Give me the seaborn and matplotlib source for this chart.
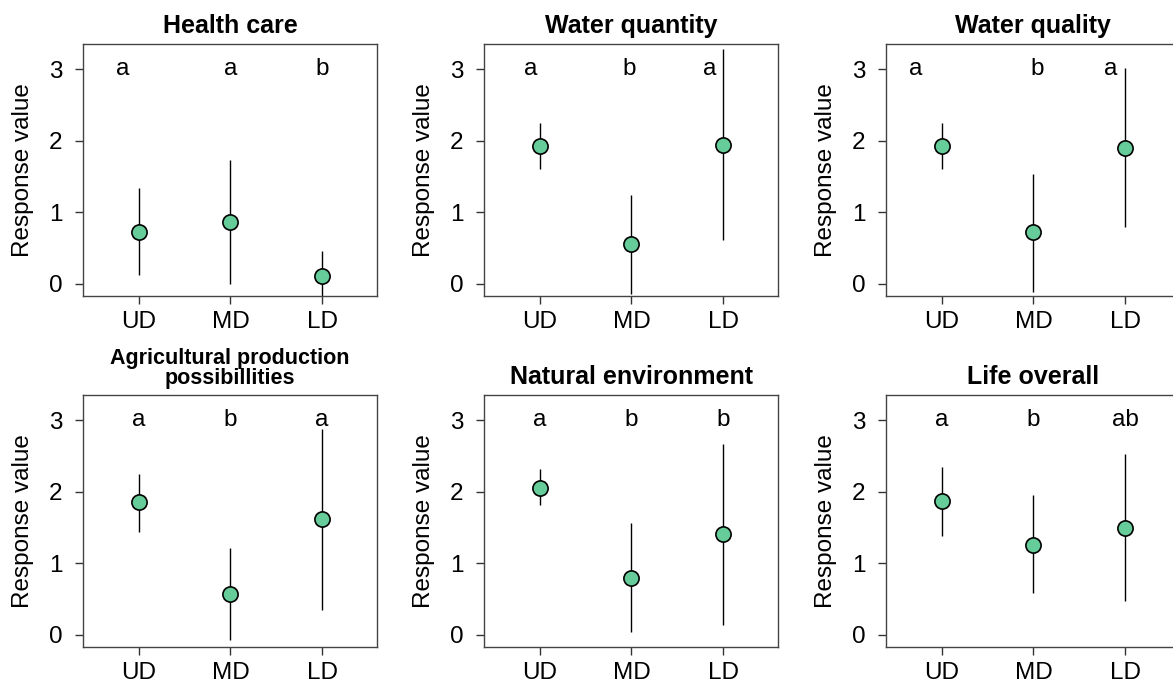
import numpy as np
import pandas as pd
import matplotlib
matplotlib.use("Agg")
import matplotlib.pyplot as plt
import seaborn as sns

# 数据准备
zones = ["UD", "MD", "LD"]
titles = ["Health care", "Water quantity", "Water quality",
          "Agricultural production\npossibillities", "Natural environment", "Life overall"]

# mean response and interval (UD, MD, LD) per panel
means = [[0.72, 0.87, 0.11],
         [1.92, 0.55, 1.94],
         [1.92, 0.72, 1.90],
         [1.85, 0.57, 1.62],
         [2.05, 0.80, 1.41],
         [1.87, 1.25, 1.49]]
lower = [[0.13, 0.00, -0.24],
         [1.61, -0.14, 0.61],
         [1.61, -0.11, 0.79],
         [1.44, -0.07, 0.35],
         [1.81, 0.04, 0.14],
         [1.38, 0.58, 0.47]]
upper = [[1.34, 1.73, 0.46],
         [2.24, 1.24, 3.28],
         [2.24, 1.53, 3.01],
         [2.24, 1.21, 2.87],
         [2.31, 1.56, 2.66],
         [2.35, 1.95, 2.52]]

# group letters (significance)
letters = [["a", "a", "b"],
           ["a", "b", "a"],
           ["a", "b", "a"],
           ["a", "b", "a"],
           ["a", "b", "b"],
           ["a", "b", "ab"]]
letter_pos = [[-0.18, 1.0, 2.0],
              [-0.10, 0.97, 1.85],
              [-0.29, 1.04, 1.84],
              [0, 1, 2],
              [0, 1, 2],
              [0, 1, 2]]

rows = []
for i, t in enumerate(titles):
    for j, z in enumerate(zones):
        rows.append({"panel": i, "zone": z, "mean": means[i][j],
                     "lo": lower[i][j], "hi": upper[i][j]})
df = pd.DataFrame(rows)

sns.set_style("ticks")
plt.rcParams['font.family'] = ['Liberation Sans', 'DejaVu Sans']
plt.rcParams['text.color'] = 'black'
plt.rcParams['axes.labelcolor'] = 'black'
plt.rcParams['xtick.color'] = 'black'
plt.rcParams['ytick.color'] = 'black'

W, H = 1173, 683
fig = plt.figure(figsize=(W / 100, H / 100), dpi=100)
lefts = [83, 484, 886]
tops = [44, 395]
aw, ah = 294, 252

for i, t in enumerate(titles):
    r, c = divmod(i, 3)
    ax = fig.add_axes([lefts[c] / W, (H - tops[r] - ah) / H, aw / W, ah / H])
    sub = df[df["panel"] == i]
    ax.vlines(sub["zone"], sub["lo"], sub["hi"], color="black", lw=1.0, zorder=2)
    sns.scatterplot(data=sub, x="zone", y="mean", ax=ax, s=120, color="#66CC99",
                    edgecolor="black", linewidth=1.2, zorder=3)
    for k, lab in enumerate(letters[i]):
        ax.text(letter_pos[i][k], 3, lab, ha="center", va="center", fontsize=17.5)
    ax.set_xlim(-0.61, 2.6)
    ax.set_ylim(-0.17, 3.35)
    ax.set_yticks([0, 1, 2, 3])
    ax.set_xlabel("")
    ax.set_ylabel("Response value", fontsize=17.5)
    ax.yaxis.set_label_coords(-0.167, 0.5)
    ax.tick_params(axis="both", direction="out", length=6, width=1,
                   labelsize=17.5, color="#333333", labelcolor="black")
    ax.tick_params(axis="y", pad=9)
    ax.tick_params(axis="x", pad=4.5)
    for sp in ax.spines.values():
        sp.set_visible(True)
        sp.set_color("#444444")
        sp.set_linewidth(1.0)
    fs = 15.5 if "\n" in t else 18
    ax.set_title(t, fontsize=fs, fontweight="bold", pad=8, linespacing=0.95)

fig.savefig("out.png", dpi=100)
